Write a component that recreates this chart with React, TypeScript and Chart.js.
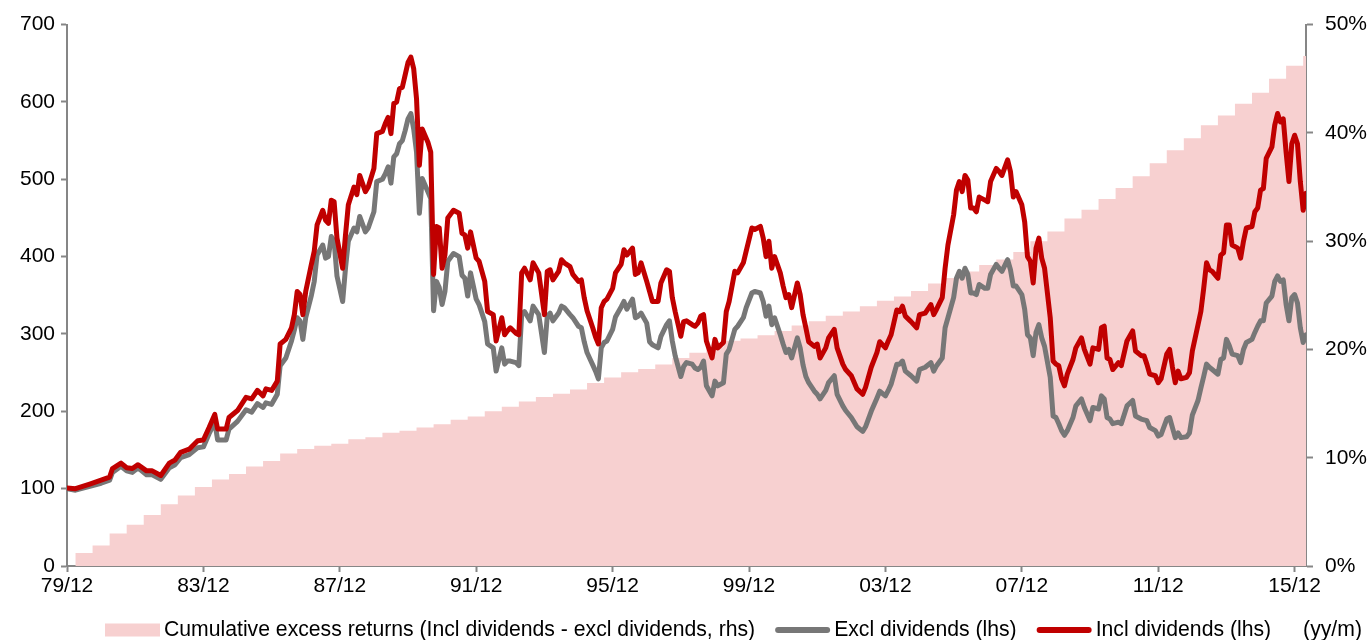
import React, { useEffect, useRef } from "react";
import { Chart, registerables } from "chart.js";

Chart.register(...registerables);

const FONT = '"Liberation Sans", Arial, Helvetica, sans-serif';
const AXIS_COLOR = "#868686";
const RED = "#C00000";
const GREY = "#777777";
const PINK = "#F7D0D0";

// Month offsets counted from 1979/12
const months = [
  0, 3, 8, 12, 15, 16, 19, 21, 23, 25, 28, 30, 33, 36, 38, 40, 43, 46, 48, 50,
  52, 53, 56, 57, 60, 63, 65, 67, 69, 70, 72, 74, 75, 77, 79, 80, 81, 82, 83, 84,
  86, 87, 88, 90, 91, 92, 93, 94, 95, 97, 98, 99, 101, 102, 103, 105, 106, 108, 109, 111,
  112, 113, 114, 115, 116, 117, 118, 119, 120, 121, 122, 123, 124, 125, 127, 128, 129, 130, 131, 132,
  133, 134, 136, 138, 139, 140, 141, 142, 144, 145, 147, 148, 150, 151, 153, 154, 155, 156, 158, 159,
  160, 161, 163, 164, 166, 168, 169, 170, 171, 173, 174, 175, 177, 178, 180, 181, 182, 183, 184, 185,
  186, 187, 188, 189, 190, 192, 193, 195, 196, 197, 199, 200, 201, 202, 204, 205, 206, 208, 209, 211,
  212, 213, 214, 216, 217, 218, 220, 221, 222, 223, 224, 225, 227, 228, 229, 231, 232, 233, 235, 236,
  238, 239, 241, 242, 244, 245, 246, 247, 248, 249, 251, 252, 253, 254, 255, 257, 258, 259, 260, 261,
  263, 264, 265, 267, 268, 270, 271, 273, 274, 276, 278, 280, 281, 283, 285, 286, 288, 289, 290, 292,
  293, 294, 295, 297, 299, 300, 302, 304, 305, 306, 308, 309, 310, 312, 313, 314, 315, 316, 317, 318,
  319, 320, 321, 323, 324, 325, 327, 328, 329, 331, 332, 333, 334, 336, 337, 338, 339, 340, 341, 342,
  343, 344, 346, 347, 348, 349, 350, 351, 352, 354, 355, 357, 358, 360, 361, 363, 364, 365, 366, 367,
  368, 370, 371, 373, 375, 376, 378, 379, 380, 381, 383, 384, 385, 387, 388, 389, 390, 391, 392, 394,
  395, 396, 398, 399, 400, 401, 402, 403, 405, 406, 407, 408, 409, 410, 412, 413, 414, 415, 417, 418,
  419, 420, 421, 422, 424, 425, 426, 427, 428, 429, 430, 431, 432, 433, 434, 435, 436,
];

const inclDividends = [
  101, 100, 106, 111, 115, 126, 133, 127, 126, 131, 123, 123, 117, 133, 137, 147, 151, 162, 163, 179,
  196, 177, 177, 192, 201, 218, 216, 227, 220, 229, 227, 239, 287, 293, 308, 325, 355, 351, 325, 355,
  390, 407, 441, 460, 447, 443, 473, 471, 424, 385, 428, 467, 490, 480, 505, 484, 490, 514, 559, 562,
  572, 580, 559, 598, 600, 617, 619, 635, 651, 658, 643, 604, 518, 565, 548, 535, 377, 439, 437, 385,
  402, 450, 460, 456, 430, 428, 411, 432, 398, 394, 368, 329, 325, 291, 321, 299, 304, 308, 301, 299,
  379, 385, 370, 392, 379, 325, 381, 383, 370, 381, 396, 392, 387, 377, 368, 370, 347, 330, 319, 308,
  296, 287, 334, 342, 345, 359, 379, 390, 409, 402, 411, 377, 379, 392, 368, 355, 342, 342, 366, 383,
  381, 347, 329, 297, 316, 317, 312, 310, 314, 323, 325, 291, 269, 293, 282, 289, 329, 342, 381, 379,
  392, 407, 437, 435, 439, 424, 400, 420, 385, 400, 379, 362, 347, 351, 334, 366, 351, 325, 308, 290,
  284, 287, 269, 282, 295, 306, 282, 261, 254, 246, 229, 222, 231, 257, 276, 290, 282, 291, 299, 331,
  329, 336, 323, 316, 308, 325, 327, 338, 325, 332, 347, 385, 415, 454, 486, 497, 484, 505, 499, 463,
  463, 458, 477, 473, 471, 497, 514, 510, 505, 525, 510, 477, 484, 467, 445, 400, 394, 366, 411, 424,
  398, 385, 321, 265, 261, 259, 242, 233, 248, 267, 282, 295, 280, 261, 282, 280, 308, 310, 269, 267,
  254, 263, 259, 291, 304, 278, 272, 272, 261, 248, 246, 237, 242, 274, 280, 257, 237, 252, 242, 244,
  250, 278, 312, 329, 359, 392, 383, 381, 372, 402, 405, 441, 441, 415, 411, 398, 420, 437, 439, 458,
  463, 486, 488, 527, 542, 570, 585, 574, 578, 535, 497, 546, 557, 546, 497, 460, 482,
];

const exclDividends = [
  100, 98, 103, 107, 111, 121, 129, 123, 121, 127, 118, 118, 112, 127, 131, 140, 144, 153, 154, 171,
  186, 163, 163, 177, 187, 202, 199, 210, 205, 211, 209, 222, 259, 269, 291, 305, 321, 317, 293, 321,
  350, 368, 402, 415, 398, 400, 426, 420, 375, 342, 385, 420, 437, 432, 452, 432, 437, 458, 497, 500,
  507, 516, 495, 529, 533, 546, 550, 563, 578, 585, 565, 535, 456, 501, 484, 475, 330, 368, 360, 338,
  355, 394, 404, 400, 376, 372, 349, 379, 345, 338, 316, 287, 282, 252, 282, 261, 265, 265, 263, 259,
  325, 329, 317, 336, 325, 276, 323, 327, 317, 327, 336, 334, 325, 321, 310, 308, 290, 276, 268, 260,
  252, 242, 282, 289, 291, 306, 322, 335, 342, 332, 345, 321, 323, 327, 314, 290, 286, 282, 297, 312,
  317, 291, 272, 245, 258, 263, 261, 256, 254, 257, 265, 233, 220, 239, 233, 237, 274, 280, 306, 310,
  321, 334, 353, 355, 353, 342, 323, 336, 312, 321, 299, 287, 276, 280, 269, 295, 282, 260, 245, 237,
  226, 222, 216, 227, 237, 246, 222, 207, 201, 192, 180, 174, 180, 200, 217, 226, 220, 227, 235, 261,
  261, 265, 252, 246, 239, 254, 257, 263, 252, 259, 269, 308, 321, 347, 372, 381, 372, 385, 377, 353,
  353, 351, 364, 359, 359, 377, 390, 385, 381, 396, 383, 362, 362, 351, 332, 299, 295, 272, 302, 312,
  295, 284, 244, 194, 192, 184, 175, 169, 175, 192, 207, 216, 205, 188, 205, 203, 220, 216, 192, 190,
  184, 186, 184, 207, 214, 194, 190, 189, 188, 179, 175, 168, 170, 190, 192, 179, 166, 172, 166, 167,
  172, 195, 214, 230, 245, 261, 257, 254, 248, 267, 269, 293, 285, 274, 272, 263, 280, 289, 293, 302,
  310, 317, 317, 340, 349, 368, 375, 368, 370, 338, 317, 347, 351, 340, 308, 289, 299,
];

// Cumulative excess return (%), stepping up at each dividend month
const stepMonths = [
  0, 3, 9, 15, 21, 27, 33, 39, 45, 51, 57, 63, 69, 75, 81, 87, 93, 99, 105, 111,
  117, 123, 129, 135, 141, 147, 153, 159, 165, 171, 177, 183, 189, 195, 201, 207, 213, 219, 225, 231,
  237, 243, 249, 255, 261, 267, 273, 279, 285, 291, 297, 303, 309, 315, 321, 327, 333, 339, 345, 351,
  357, 363, 369, 375, 381, 387, 393, 399, 405, 411, 417, 423, 429, 435, 436,
];

const excessReturns = [
  0, 1.2, 1.9, 3.0, 3.8, 4.7, 5.7, 6.5, 7.3, 8.0, 8.5, 9.2, 9.7, 10.4, 10.8, 11.1, 11.3, 11.7, 11.9, 12.3,
  12.5, 12.8, 13.1, 13.5, 13.8, 14.3, 14.7, 15.2, 15.6, 15.9, 16.3, 16.9, 17.4, 17.9, 18.2, 18.6, 19.2, 19.7, 20.2, 20.8,
  21.0, 21.3, 21.7, 22.2, 22.6, 23.1, 23.5, 24.0, 24.5, 24.9, 25.4, 26.1, 26.6, 27.2, 27.8, 28.3, 29.0, 30.0, 30.9, 32.1,
  32.9, 33.9, 34.9, 36.0, 37.2, 38.4, 39.5, 40.7, 41.6, 42.7, 43.7, 45.0, 46.2, 47.1, 47.1,
];

const tickMonths = [0, 48, 96, 144, 192, 240, 288, 336, 384, 432];
const tickLabels = ["79/12", "83/12", "87/12", "91/12", "95/12", "99/12", "03/12", "07/12", "11/12", "15/12"];

const seriesNames = [
  "Cumulative excess returns (Incl dividends - excl dividends, rhs)",
  "Excl dividends (lhs)",
  "Incl dividends (lhs)",
];
const unitNote = "(yy/m)";

// Legend drawn along the bottom edge: swatch + label for each series, then the unit note
const bottomLegend = {
  id: "bottomLegend",
  afterDraw(chart: any) {
    const ctx = chart.ctx as CanvasRenderingContext2D;
    const y = 630;
    ctx.save();
    ctx.font = `21.2px ${FONT}`;
    ctx.textBaseline = "middle";
    ctx.textAlign = "left";
    let x = 105;

    chart.data.datasets.forEach((ds: any, i: number) => {
      if (i === 0) {
        ctx.fillStyle = ds.backgroundColor;
        ctx.fillRect(x, y - 6.5, 55, 13);
        x += 59;
      } else {
        ctx.strokeStyle = ds.borderColor;
        ctx.lineWidth = 6;
        ctx.lineCap = "round";
        ctx.beginPath();
        ctx.moveTo(x + 3, y);
        ctx.lineTo(x + 52, y);
        ctx.stroke();
        x += 59;
      }
      ctx.fillStyle = "#000";
      ctx.fillText(ds.label, x, y);
      x += ctx.measureText(ds.label).width + 20;
    });
    ctx.fillStyle = "#000";
    ctx.fillText(unitNote, x + 12, y);
    ctx.restore();
  },
};

export default function App() {
  const canvasRef = useRef<HTMLCanvasElement | null>(null);

  useEffect(() => {
    if (!canvasRef.current) return;
    Chart.defaults.font.family = FONT;
    Chart.defaults.font.size = 21;
    Chart.defaults.color = "#000";

    const toPoints = (xs: number[], ys: number[]) => xs.map((m, i) => ({ x: m, y: ys[i] }));

    const chart = new Chart(canvasRef.current, {
      type: "line",
      data: {
        datasets: [
          {
            label: seriesNames[0],
            data: toPoints(stepMonths, excessReturns),
            yAxisID: "y1",
            stepped: true,
            fill: "origin",
            backgroundColor: PINK,
            borderColor: PINK,
            borderWidth: 0,
            pointRadius: 0,
            order: 3,
          },
          {
            label: seriesNames[1],
            data: toPoints(months, exclDividends),
            yAxisID: "y",
            borderColor: GREY,
            backgroundColor: GREY,
            borderWidth: 5,
            borderJoinStyle: "round",
            borderCapStyle: "round",
            pointRadius: 0,
            tension: 0,
            fill: false,
            order: 2,
          },
          {
            label: seriesNames[2],
            data: toPoints(months, inclDividends),
            yAxisID: "y",
            borderColor: RED,
            backgroundColor: RED,
            borderWidth: 5,
            borderJoinStyle: "round",
            borderCapStyle: "round",
            pointRadius: 0,
            tension: 0,
            fill: false,
            order: 1,
          },
        ],
      },
      options: {
        responsive: false,
        devicePixelRatio: 1,
        animation: false,
        events: [],
        layout: { padding: { top: 22, left: 0, right: 0, bottom: 0 } },
        plugins: {
          legend: { display: false },
          tooltip: { enabled: false },
        },
        scales: {
          x: {
            type: "linear",
            min: 0,
            max: 436,
            afterBuildTicks: (scale: any) => {
              scale.ticks = tickMonths.map((v) => ({ value: v }));
            },
            afterFit: (scale: any) => {
              scale.height = 74;
            },
            ticks: {
              autoSkip: false,
              maxRotation: 0,
              padding: 2,
              callback: (v: any) => {
                const i = tickMonths.indexOf(Number(v));
                return i >= 0 ? tickLabels[i] : "";
              },
            },
            grid: { drawOnChartArea: false, tickLength: 6, tickColor: AXIS_COLOR, tickWidth: 2 },
            border: { color: AXIS_COLOR, width: 2 },
          },
          y: {
            position: "left",
            min: 0,
            max: 700,
            afterFit: (scale: any) => {
              scale.width = 67;
            },
            ticks: { stepSize: 100, padding: 6 },
            grid: { drawOnChartArea: false, tickLength: 6, tickColor: AXIS_COLOR, tickWidth: 2 },
            border: { color: AXIS_COLOR, width: 2 },
          },
          y1: {
            position: "right",
            min: 0,
            max: 50,
            afterFit: (scale: any) => {
              scale.width = 64;
            },
            ticks: { stepSize: 10, padding: 12, callback: (v: any) => `${v}%` },
            grid: { drawOnChartArea: false, tickLength: 7, tickColor: AXIS_COLOR, tickWidth: 2 },
            border: { color: AXIS_COLOR, width: 2 },
          },
        },
      },
      plugins: [bottomLegend],
    } as any);

    return () => chart.destroy();
  }, []);

  return (
    <div style={{ position: "absolute", left: 0, top: 0, width: 1370, height: 640, background: "#fff" }}>
      <canvas ref={canvasRef} width={1370} height={640} style={{ display: "block" }} />
    </div>
  );
}
